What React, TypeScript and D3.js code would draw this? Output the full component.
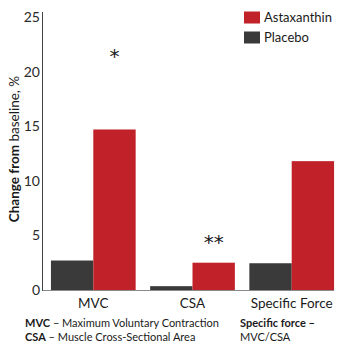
import React from "react";
import * as d3 from "d3";

const categories = ["MVC", "CSA", "Specific Force"];
const series = ["Placebo", "Astaxanthin"];
const placeboValues = [2.7, 0.35, 2.45];
const astaxanthinValues = [14.7, 2.5, 11.8];
const yTicks = [0, 5, 10, 15, 20, 25];
const significance = [
  { category: "MVC", label: "*", value: 22.2 },
  { category: "CSA", label: "**", value: 5.1 },
];
const legendItems = ["Astaxanthin", "Placebo"];

const colors: Record<string, string> = { Astaxanthin: "#c1222a", Placebo: "#3b3a3b" };
const FONT = "'Lato', 'Noto Sans', sans-serif";

export default function App() {
  const W = 343, H = 350;
  const x = d3.scaleBand<string>().domain(categories).range([42.5, 342.5]).paddingInner(0.146).paddingOuter(0.085);
  const xs = d3.scaleBand<string>().domain(series).range([0, x.bandwidth()]);
  const y = d3.scaleLinear().domain([0, 25]).range([290, 17]);
  const vals: Record<string, number[]> = { Placebo: placeboValues, Astaxanthin: astaxanthinValues };
  const lastBandEnd = (x(categories[categories.length - 1]) ?? 0) + x.bandwidth();
  return (
    <svg width={W} height={H} style={{ position: "absolute", left: 0, top: 0, background: "#fff" }} fontFamily={FONT}>
      {categories.map((c, i) =>
        series.map((s) => (
          <rect key={c + s} x={(x(c) ?? 0) + (xs(s) ?? 0)} y={y(vals[s][i])} width={xs.bandwidth()} height={y(0) - y(vals[s][i])} fill={colors[s]} />
        ))
      )}
      <line x1={42.5} x2={lastBandEnd} y1={y(0) + 0.5} y2={y(0) + 0.5} stroke="#8a8a8a" strokeWidth={1.2} />
      <line x1={42.5} x2={42.5} y1={12} y2={y(0) + 1} stroke="#444" strokeWidth={1} />
      {yTicks.map((t) => (
        <text key={t} x={40} y={y(t)} dy="0.35em" textAnchor="end" fontSize={14} fill="#2a2a2a">{t}</text>
      ))}
      <text transform={`translate(19,149) rotate(-90)`} textAnchor="middle" fontSize={13.5} fill="#1a1a1a">
        <tspan fontWeight={700}>Change from</tspan>
        <tspan> baseline, %</tspan>
      </text>
      {categories.map((c) => (
        <text key={c} x={(x(c) ?? 0) + x.bandwidth() / 2} y={308} textAnchor="middle" fontSize={13.5} fill="#1a1a1a">{c}</text>
      ))}
      {significance.map((s) => (
        <text key={s.category} x={(x(s.category) ?? 0) + (xs("Astaxanthin") ?? 0) + xs.bandwidth() / 2} y={y(s.value)} dy="0.75em" textAnchor="middle" fontSize={20} fontFamily="'DejaVu Sans', sans-serif" fill="#1a1a1a">{s.label}</text>
      ))}
      {legendItems.map((s, i) => (
        <g key={s} transform={`translate(244,${11.5 + i * 20})`}>
          <rect width={16} height={12} fill={colors[s]} />
          <text x={20} y={6} dy="0.35em" fontSize={13} fill="#1a1a1a">{s}</text>
        </g>
      ))}
      <g fontSize={11} fill="#1a1a1a">
        <text x={25} y={327}><tspan fontWeight={700}>MVC</tspan><tspan> – Maximum Voluntary Contraction</tspan></text>
        <text x={25} y={341}><tspan fontWeight={700}>CSA</tspan><tspan> – Muscle Cross-Sectional Area</tspan></text>
        <text x={240} y={327}><tspan fontWeight={700}>Specific force –</tspan></text>
        <text x={240} y={341}>MVC/CSA</text>
      </g>
    </svg>
  );
}
